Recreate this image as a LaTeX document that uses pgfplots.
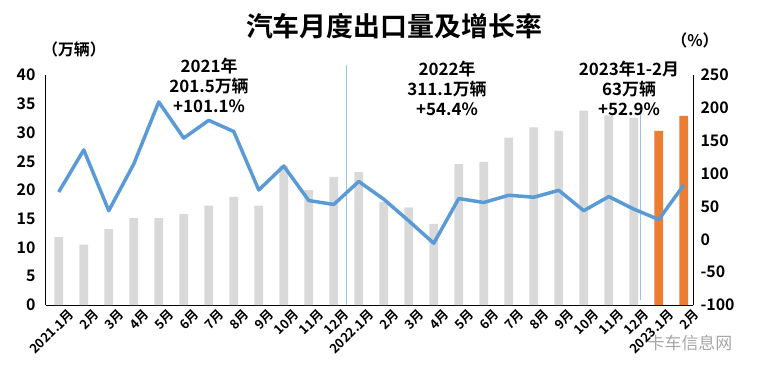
\documentclass[border=0pt]{standalone}
\usepackage{pgfplots}
\pgfplotsset{compat=1.18}
\usetikzlibrary{calc}
\usepackage{fontspec}
\setmainfont{Noto Sans CJK SC}[BoldFont={Noto Sans CJK SC Bold}]
\definecolor{barGray}{HTML}{D9D9D9}
\definecolor{barOrange}{HTML}{ED7D31}
\definecolor{lineBlue}{HTML}{5B9BD5}
\definecolor{sepBlue}{HTML}{9DC3E6}
\newcommand{\tickfont}{\bfseries\fontsize{16}{16}\selectfont}
\newcommand{\annfont}{\bfseries\fontsize{17}{20}\selectfont}
\begin{document}
\begin{tikzpicture}[x=1bp,y=1bp]
\begin{axis}[
  scale only axis,
  width=647bp, height=230bp,
  xmin=-0.51, xmax=25.37, ymin=0, ymax=40,
  axis x line*=bottom, axis y line*=left,
  axis line style={-, black, line width=1bp},
  xtick={0,...,25},
  xticklabels={2021.1月,2月,3月,4月,5月,6月,7月,8月,9月,10月,11月,12月,2022.1月,2月,3月,4月,5月,6月,7月,8月,9月,10月,11月,12月,2023.1月,2月},
  ytick={0,5,...,40},
  yticklabels={0,5,10,15,20,25,30,35,40},
  major tick length=0pt,
  x tick label style={rotate=45, anchor=north east, font=\bfseries\fontsize{13}{13}\selectfont, inner sep=1pt, xshift=5bp, yshift=-7bp},
  y tick label style={font=\tickfont, xshift=-7bp},
  clip=false,
]
\coordinate (bl) at (rel axis cs:0,0);
\addplot[ybar, bar shift=0pt, bar width=0.35, fill=barGray, draw=none] coordinates {
(0,11.8) (1,10.5) (2,13.2) (3,15.1) (4,15.1) (5,15.8) (6,17.3) (7,18.8) (8,17.3) (9,24.2) (10,20.0) (11,22.3)
(12,23.1) (13,17.9) (14,17.0) (15,14.1) (16,24.5) (17,24.9) (18,29.1) (19,30.9) (20,30.3) (21,33.8) (22,33.0) (23,32.5)};
\addplot[ybar, bar shift=0pt, bar width=0.35, fill=barOrange, draw=none] coordinates {(24,30.3) (25,32.9)};
\addplot[sepBlue, line width=1bp] coordinates {(11.5,0) (11.5,41.7)};
\addplot[sepBlue, line width=1bp] coordinates {(23.28,0.9) (23.28,33.4)};
\end{axis}
\begin{axis}[
  scale only axis,
  width=647bp, height=230bp,
  xmin=-0.51, xmax=25.37, ymin=-100, ymax=250,
  axis y line*=right, axis x line=none,
  axis line style={-, black, line width=1bp},
  ytick={-100,-50,0,50,100,150,200,250},
  yticklabels={-100,-50,0,50,100,150,200,250},
  major tick length=0pt,
  y tick label style={font=\tickfont, xshift=4bp},
]
\addplot[lineBlue, line width=3.5bp, line join=round] coordinates {
(0,72) (1,136) (2,43.5) (3,114.5) (4,209) (5,154) (6,181) (7,164) (8,75) (9,111.5) (10,59) (11,53)
(12,88) (13,61) (14,28) (15,-6) (16,62) (17,56) (18,67) (19,64) (20,74.5) (21,43.5) (22,65) (23,46)
(24,30) (25,82.6)};
\end{axis}
\begin{scope}[shift={($(bl)+(-46,-71)$)}]
\node[font=\bfseries\fontsize{27}{27}\selectfont] at (394,350) {汽车月度出口量及增长率};
\node[font=\tickfont] at (74,327) {（万辆）};
\node[font=\tickfont] at (695,336) {（\%）};
\node[font=\annfont, align=center] at (209,291) {2021年\\201.5万辆\\+101.1\%};
\node[font=\annfont, align=center] at (447,288) {2022年\\311.1万辆\\+54.4\%};
\node[font=\annfont, align=center] at (629,288) {2023年1-2月\\63万辆\\+52.9\%};
\node[font=\fontsize{17}{17}\selectfont, text=black!35] at (690,33) {卡车信息网};
\pgfresetboundingbox
\path[use as bounding box] (0,0) rectangle (760,376);
\end{scope}
\end{tikzpicture}
\end{document}
